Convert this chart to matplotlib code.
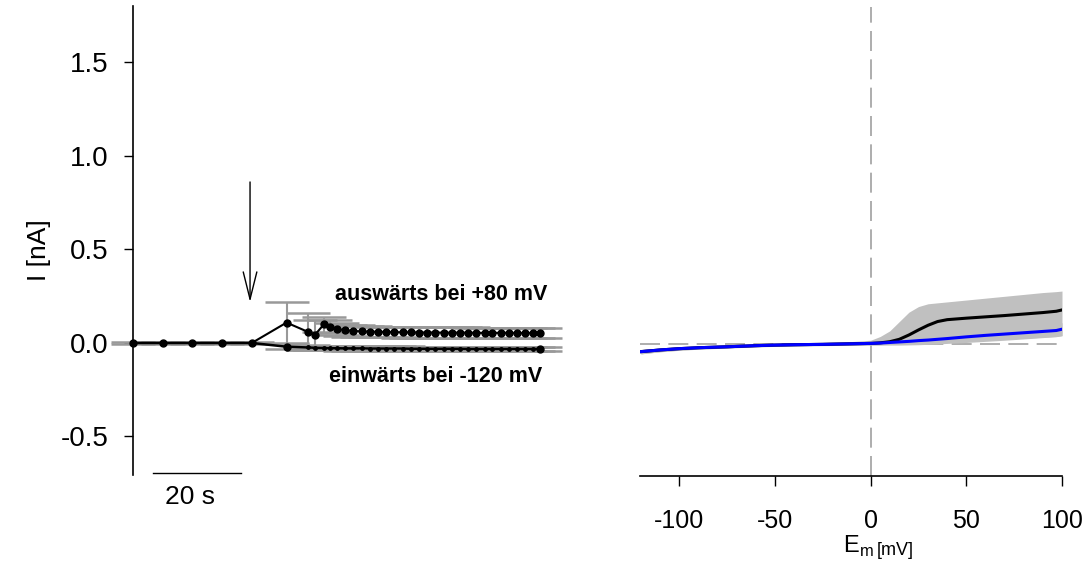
import matplotlib
matplotlib.use('Agg')
import matplotlib.pyplot as plt

plt.rcParams['font.family'] = ['Liberation Sans', 'DejaVu Sans']

# --- time course (left) ---
t_pre = [0.0, 6.8, 13.5, 20.2, 27.0]
t_post = [34.9, 39.7, 41.4, 43.4, 44.8, 46.3, 48.2, 50.1, 52.0, 53.8, 55.7,
          57.5, 59.4, 61.3, 63.1, 65.0, 66.8, 68.7, 70.6, 72.4, 74.3, 76.1,
          78.0, 79.9, 81.7, 83.6, 85.4, 87.3, 89.2, 91.0, 92.6]
i_pre = [0.0, 0.0, 0.0, 0.0, 0.0]
out_post = [0.109, 0.060, 0.045, 0.100, 0.088, 0.076, 0.068, 0.064, 0.062,
            0.060, 0.060, 0.058, 0.058, 0.057, 0.057, 0.056, 0.056, 0.056,
            0.055, 0.055, 0.055, 0.055, 0.054, 0.054, 0.054, 0.054, 0.054,
            0.053, 0.053, 0.053, 0.053]
out_sem = [0.110, 0.100, 0.080, 0.040, 0.035, 0.032, 0.030, 0.030, 0.029,
           0.029, 0.028, 0.028, 0.028, 0.028, 0.028, 0.028, 0.028, 0.028,
           0.028, 0.028, 0.028, 0.028, 0.028, 0.028, 0.028, 0.028, 0.028,
           0.028, 0.028, 0.028, 0.028]
in_post = [-0.020, -0.024, -0.026, -0.027, -0.028, -0.028, -0.029, -0.029,
           -0.029, -0.030, -0.030, -0.030, -0.030, -0.030, -0.031, -0.031,
           -0.031, -0.031, -0.031, -0.031, -0.031, -0.032, -0.032, -0.032,
           -0.032, -0.032, -0.032, -0.032, -0.032, -0.032, -0.032]
in_sem = [0.012] * 31
pre_sem = [0.004, 0.004, 0.004, 0.004, 0.004]

# --- I/V curves (right) ---
em = [-120, -110, -100, -90, -75, -60, -50, -40, -25, -10, 0, 5, 10, 15, 20,
      25, 30, 35, 40, 50, 60, 70, 80, 90, 97, 100]
iv_ctrl = [-0.041, -0.032, -0.025, -0.020, -0.015, -0.009, -0.006, -0.004,
           -0.002, 0.001, 0.003, 0.005, 0.008, 0.011, 0.014, 0.018, 0.021,
           0.025, 0.029, 0.038, 0.046, 0.053, 0.060, 0.067, 0.072, 0.079]
iv_ctrl_sd = [0.012, 0.009, 0.008, 0.007, 0.006, 0.006, 0.006, 0.006, 0.006,
              0.007, 0.008, 0.009, 0.010, 0.011, 0.012, 0.013, 0.014, 0.016,
              0.018, 0.022, 0.025, 0.027, 0.029, 0.031, 0.033, 0.035]
iv_drug = [-0.041, -0.032, -0.025, -0.020, -0.015, -0.009, -0.006, -0.004,
           -0.002, 0.001, 0.003, 0.006, 0.012, 0.025, 0.048, 0.075, 0.100,
           0.120, 0.130, 0.138, 0.145, 0.152, 0.160, 0.168, 0.175, 0.182]
iv_drug_hi = [-0.030, -0.022, -0.016, -0.011, -0.006, -0.001, 0.002, 0.005,
              0.008, 0.013, 0.020, 0.040, 0.070, 0.120, 0.170, 0.200, 0.215,
              0.220, 0.225, 0.235, 0.245, 0.255, 0.265, 0.275, 0.280, 0.283]
iv_drug_lo = [-0.053, -0.042, -0.034, -0.028, -0.022, -0.016, -0.013, -0.011,
              -0.009, -0.007, -0.006, -0.006, -0.006, -0.006, -0.005, -0.004,
              -0.002, 0.000, 0.003, 0.008, 0.014, 0.020, 0.027, 0.034, 0.040,
              0.045]

W, H = 1090, 573
fig = plt.figure(figsize=(W / 100, H / 100), dpi=100)

ylo, yhi = -0.706, 1.802
bottom = (H - 475) / H
height = (475 - 6) / H

ax1 = fig.add_axes([133 / W, bottom, (560 - 133) / W, height])
ax1.set_xlim(0, (560 - 133) / 4.4)
ax1.set_ylim(ylo, yhi)
for s in ['top', 'right', 'bottom']:
    ax1.spines[s].set_visible(False)
ax1.spines['left'].set_linewidth(1.2)
ax1.set_xticks([])
ax1.set_yticks([-0.5, 0.0, 0.5, 1.0, 1.5])
ax1.set_yticklabels(['-0.5', '0.0', '0.5', '1.0', '1.5'])
ax1.tick_params(axis='y', length=6.5, width=1, pad=11, labelsize=20)
ax1.set_ylabel('I [nA]', fontsize=19, va='center')
ax1.yaxis.set_label_coords((39 - 133) / 427, (475 - 250) / 469)

gray = '#999999'
t_out = t_pre + t_post
y_out = i_pre + out_post
y_in = i_pre + in_post

for tt, yy, ee in [(t_pre, i_pre, pre_sem), (t_post, in_post, in_sem),
                   (t_post, out_post, out_sem)]:
    ax1.errorbar(tt, yy, yerr=ee, fmt='none', ecolor=gray, elinewidth=1.5,
                 capsize=16, capthick=1.8, clip_on=False, zorder=2)

ax1.plot(t_pre + t_post, y_in, '-', color='black', lw=1.8, zorder=3,
         clip_on=False)
ax1.plot(t_post, in_post, 'o', color='black', ms=2.5, zorder=3)
ax1.plot([t_post[0], t_post[-1]], [in_post[0], in_post[-1]], 'o',
         color='black', ms=5, zorder=4)
ax1.plot(t_out, y_out, '-o', color='black', lw=1.5, ms=5, zorder=4,
         clip_on=False)

ax1.annotate('', xy=(26.6, 0.219), xytext=(26.6, 0.861),
             arrowprops=dict(arrowstyle='->,head_length=1.4,head_width=0.35',
                             color='black', lw=1, shrinkA=0, shrinkB=0,
                             mutation_scale=14))

ax1.text((547 - 133) / 4.4, 0.26, 'auswärts bei +80 mV', ha='right',
         va='center', fontsize=15.5, fontweight='bold')
ax1.text((542 - 133) / 4.4, -0.18, 'einwärts bei -120 mV', ha='right',
         va='center', fontsize=15.5, fontweight='bold')

# 20 s scale bar
fig.add_artist(plt.Line2D([153 / W, 241 / W], [1 - 473 / H, 1 - 473 / H],
                          color='black', lw=1))
fig.text(190 / W, 1 - 497 / H, '20 s', ha='center', va='center', fontsize=19)

ax2 = fig.add_axes([640 / W, bottom - 1 / H, (1062 - 640) / W, height])
ax2.set_xlim(-120.5, 100)
ax2.set_ylim(ylo, yhi)
for s in ['top', 'right', 'left']:
    ax2.spines[s].set_visible(False)
ax2.spines['bottom'].set_linewidth(1.2)
ax2.set_yticks([])
ax2.set_xticks([-100, -50, 0, 50, 100])
ax2.set_xticklabels(['-100', '-50', '0', '50', '100'])
ax2.tick_params(axis='x', length=7, width=1, pad=17, labelsize=18)

band = '#c0c0c0'
lo_c = [m - s for m, s in zip(iv_ctrl, iv_ctrl_sd)]
hi_c = [m + s for m, s in zip(iv_ctrl, iv_ctrl_sd)]
ax2.fill_between(em, iv_drug_lo, iv_drug_hi, color=band, lw=0, zorder=1,
                 clip_on=False)
ax2.fill_between(em, lo_c, hi_c, color=band, lw=0, zorder=1, clip_on=False)
ax2.axhline(0, color='#a0a0a0', lw=1.2, ls=(0, (12, 5)), zorder=0.5)
ax2.axvline(0, color='#a0a0a0', lw=1.2, ls=(0, (12, 5)), zorder=0.5)
ax2.plot(em, iv_drug, color='black', lw=2.2, zorder=3)
ax2.plot(em, iv_ctrl, color='#0000ff', lw=2.2, zorder=4)

fig.text(874 / W, 1 - 553 / H, 'E$_\\mathregular{m}$', ha='right',
         va='baseline', fontsize=17)
fig.text(877 / W, 1 - 555 / H, '[mV]', ha='left', va='baseline', fontsize=13)

fig.savefig('out.png', dpi=100)
